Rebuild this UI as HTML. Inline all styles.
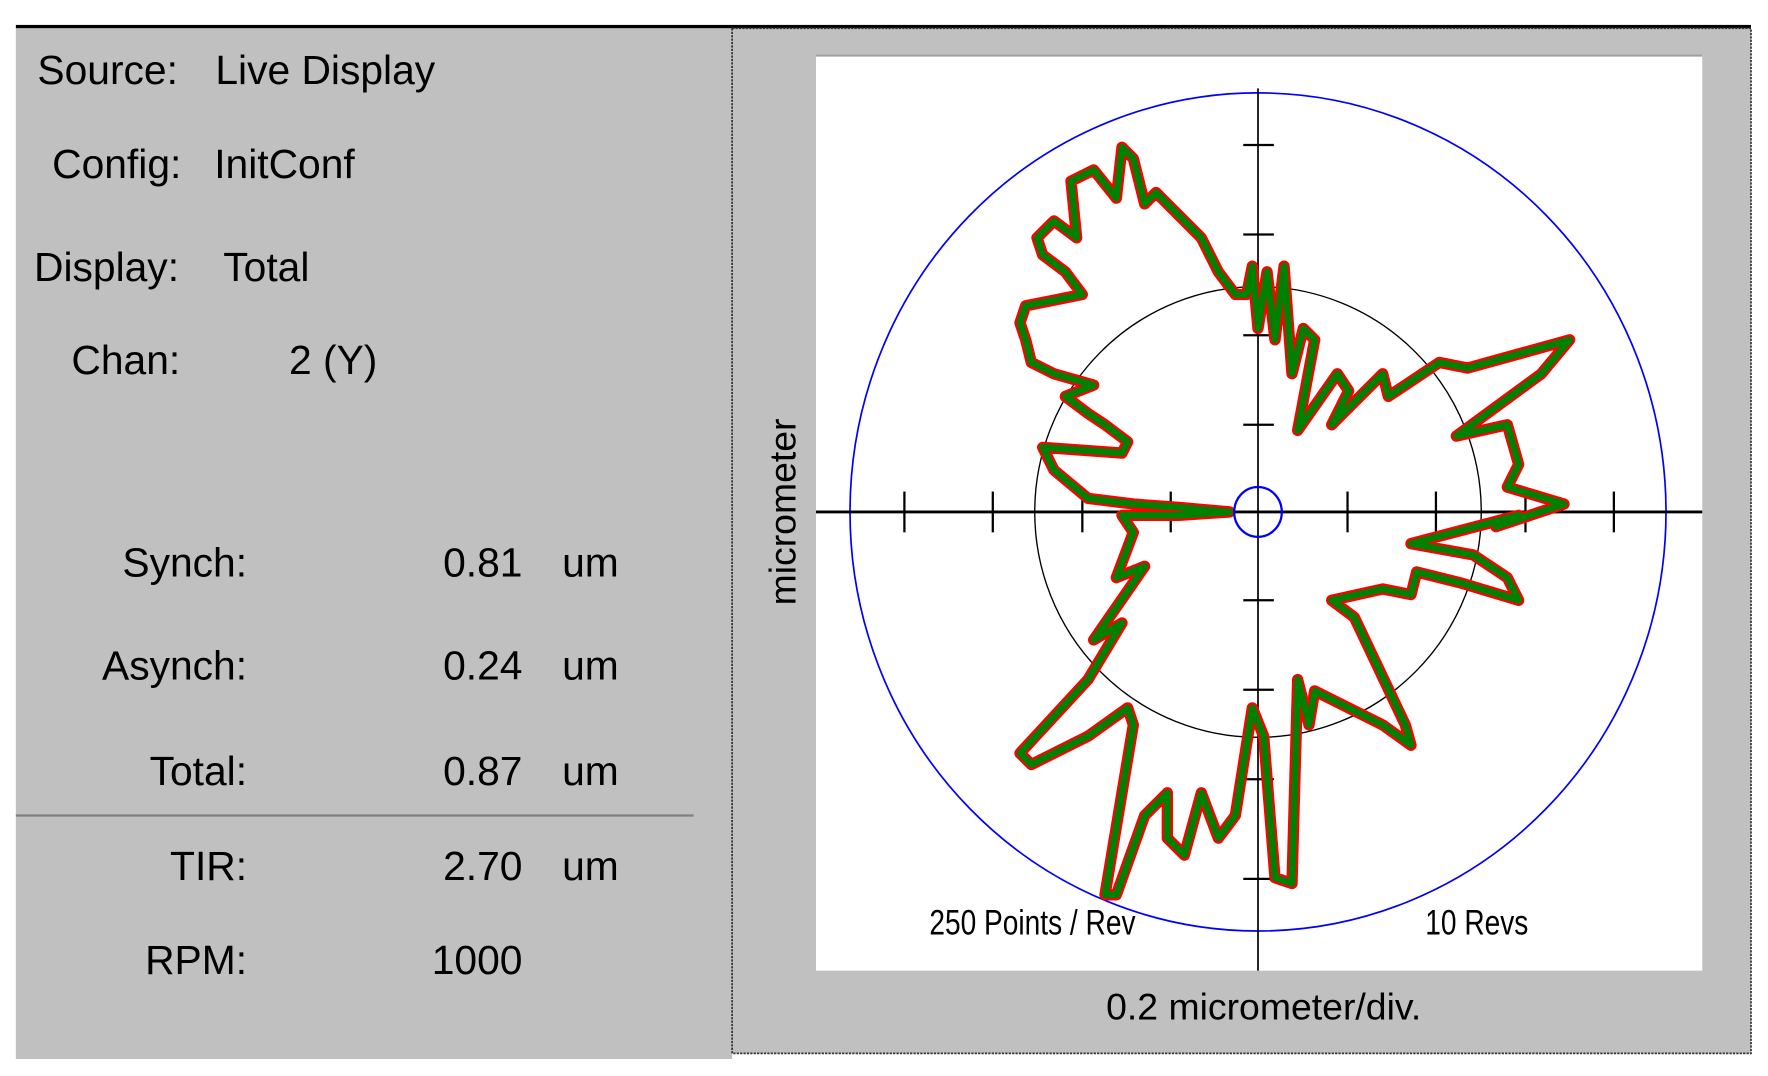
<!DOCTYPE html>
<html><head><meta charset="utf-8"><style>
html,body{margin:0;padding:0;background:#fff;}
svg{display:block;}
text{font-family:"Liberation Sans",sans-serif;fill:#000;}
</style></head><body>
<svg width="1768" height="1076" viewBox="0 0 1560 950" preserveAspectRatio="none" xmlns="http://www.w3.org/2000/svg">
<rect x="0" y="0" width="1560" height="950" fill="#fff"/>
<rect x="14" y="22" width="1531" height="3" fill="#000"/>
<rect x="14" y="25" width="632" height="910" fill="#c0c0c0"/>
<rect x="646" y="25" width="899" height="905" fill="#c0c0c0" stroke="#333" stroke-width="1.5" stroke-dasharray="2,1"/>
<rect x="720" y="48" width="782" height="809" fill="#fff"/>
<line x1="720" y1="49" x2="1502" y2="49" stroke="#a0a0a0" stroke-width="2"/>
<line x1="14" y1="720" x2="612" y2="720" stroke="#808080" stroke-width="2"/>
<g font-size="36">
<text x="33" y="74">Source:</text><text x="190" y="74">Live Display</text>
<text x="46" y="157">Config:</text><text x="189" y="157">InitConf</text>
<text x="30" y="248">Display:</text><text x="197" y="248">Total</text>
<text x="63" y="330">Chan:</text><text x="255" y="330">2 (Y)</text>
<g text-anchor="end">
<text x="218" y="509">Synch:</text><text x="461" y="509">0.81</text>
<text x="218" y="600">Asynch:</text><text x="461" y="600">0.24</text>
<text x="218" y="693">Total:</text><text x="461" y="693">0.87</text>
<text x="218" y="777">TIR:</text><text x="461" y="777">2.70</text>
<text x="218" y="860">RPM:</text><text x="461" y="860">1000</text>
</g>
<text x="496" y="509">um</text><text x="496" y="600">um</text><text x="496" y="693">um</text><text x="496" y="777">um</text>
</g>
<text transform="translate(702,452) rotate(-90)" text-anchor="middle" font-size="33">micrometer</text>
<text x="1115" y="900" text-anchor="middle" font-size="33">0.2 micrometer/div.</text>
<ellipse cx="1110" cy="452" rx="360" ry="370" fill="none" stroke="#0000ff" stroke-width="1.5"/>
<ellipse cx="1110" cy="452" rx="197" ry="199" fill="none" stroke="#000" stroke-width="1.2"/>
<line x1="720" y1="452" x2="1502" y2="452" stroke="#000" stroke-width="2.5"/>
<line x1="1110" y1="78" x2="1110" y2="857" stroke="#000" stroke-width="1.5"/>
<g stroke="#000" stroke-width="2">
<line x1="798" y1="434" x2="798" y2="470"/><line x1="876" y1="434" x2="876" y2="470"/><line x1="955" y1="434" x2="955" y2="470"/><line x1="1033" y1="434" x2="1033" y2="470"/>
<line x1="1189" y1="434" x2="1189" y2="470"/><line x1="1267" y1="434" x2="1267" y2="470"/><line x1="1346" y1="434" x2="1346" y2="470"/><line x1="1424" y1="434" x2="1424" y2="470"/>
<line x1="1097" y1="128" x2="1124" y2="128"/><line x1="1097" y1="207" x2="1124" y2="207"/><line x1="1097" y1="296" x2="1124" y2="296"/><line x1="1097" y1="375" x2="1124" y2="375"/>
<line x1="1097" y1="530" x2="1124" y2="530"/><line x1="1097" y1="609" x2="1124" y2="609"/><line x1="1097" y1="688" x2="1124" y2="688"/><line x1="1097" y1="776" x2="1124" y2="776"/>
</g>
<g fill="none" stroke-linejoin="round">
<polygon stroke="#ff0000" stroke-width="10" points="1100,260 1105,235 1110,290 1118,240 1125,300 1133,235 1140,330 1150,290 1160,300 1145,380 1180,330 1190,345 1175,375 1220,330 1225,350 1270,320 1295,325 1385,300 1360,330 1285,385 1330,375 1340,410 1330,430 1380,445 1320,465 1340,455 1245,480 1300,490 1330,510 1340,530 1290,515 1250,505 1245,525 1220,520 1175,530 1195,545 1240,640 1245,658 1220,640 1160,610 1155,640 1145,600 1140,780 1125,775 1115,650 1105,625 1090,720 1075,740 1060,700 1045,755 1030,740 1030,700 1010,720 985,790 975,790 1000,640 995,625 960,650 910,675 900,665 960,600 990,550 965,565 1010,500 985,510 1000,470 990,455 1040,455 1085,452 1040,448 1000,445 960,440 930,415 920,395 990,400 995,390 975,375 960,365 940,350 965,340 930,330 910,320 905,300 900,285 905,270 930,265 955,260 940,240 920,225 915,210 930,195 950,210 945,160 965,150 985,175 990,130 1000,140 1010,180 1020,170 1045,195 1060,210 1075,240 1090,260"/>
<polygon stroke="#008000" stroke-width="6" points="1100,260 1105,235 1110,290 1118,240 1125,300 1133,235 1140,330 1150,290 1160,300 1145,380 1180,330 1190,345 1175,375 1220,330 1225,350 1270,320 1295,325 1385,300 1360,330 1285,385 1330,375 1340,410 1330,430 1380,445 1320,465 1340,455 1245,480 1300,490 1330,510 1340,530 1290,515 1250,505 1245,525 1220,520 1175,530 1195,545 1240,640 1245,658 1220,640 1160,610 1155,640 1145,600 1140,780 1125,775 1115,650 1105,625 1090,720 1075,740 1060,700 1045,755 1030,740 1030,700 1010,720 985,790 975,790 1000,640 995,625 960,650 910,675 900,665 960,600 990,550 965,565 1010,500 985,510 1000,470 990,455 1040,455 1085,452 1040,448 1000,445 960,440 930,415 920,395 990,400 995,390 975,375 960,365 940,350 965,340 930,330 910,320 905,300 900,285 905,270 930,265 955,260 940,240 920,225 915,210 930,195 950,210 945,160 965,150 985,175 990,130 1000,140 1010,180 1020,170 1045,195 1060,210 1075,240 1090,260"/>
</g>
<ellipse cx="1110" cy="452" rx="21" ry="22" fill="none" stroke="#0000ff" stroke-width="2"/>
<g font-size="31" transform="scale(0.8,1)">
<text x="1025" y="825">250 Points / Rev</text>
<text x="1572" y="825">10 Revs</text>
</g>
</svg>
</body></html>
